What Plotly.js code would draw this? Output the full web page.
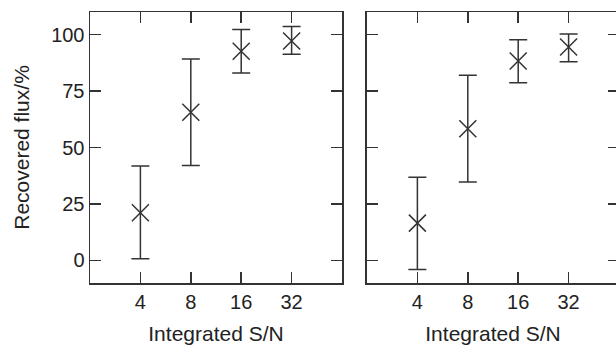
<!DOCTYPE html>
<html>
<head>
<meta charset="utf-8">
<script src="https://cdn.plot.ly/plotly-3.0.1.min.js"></script>
<style>
html,body{margin:0;padding:0;overflow:hidden;background:#fff;}
#chart{width:622px;height:345px;}
</style>
</head>
<body>
<div id="chart"></div>
<script>
var snr = [4, 8, 16, 32];
var tickLabels = ['4', '8', '16', '32'];

var leftFlux  = [21.1, 65.6, 92.6, 97.2];
var leftUpper = [41.8, 89.2, 102.2, 103.6];
var leftLower = [0.7, 42.0, 83.0, 91.3];

var rightFlux  = [16.5, 58.3, 88.3, 94.5];
var rightUpper = [36.8, 82.0, 97.7, 100.3];
var rightLower = [-4.0, 34.7, 78.7, 88.0];

var ink = '#333333';
var fontFam = '"Liberation Sans", Arial, Helvetica, sans-serif';
var fs = 20;
var tfs = 21;

function trace(y, up, lo, xa, ya) {
  return {
    x: snr, y: y, xaxis: xa, yaxis: ya,
    type: 'scatter', mode: 'markers',
    marker: {symbol: 'x-thin-open', size: 17, color: ink, line: {width: 1.5, color: ink}},
    error_y: {
      type: 'data', symmetric: false,
      array: up.map(function(u, i){ return u - y[i]; }),
      arrayminus: lo.map(function(l, i){ return y[i] - l; }),
      color: ink, thickness: 1.5, width: 9
    },
    showlegend: false, hoverinfo: 'skip'
  };
}

var xbase = {
  type: 'log', range: [Math.log10(2), Math.log10(64)],
  tickvals: snr, ticktext: tickLabels,
  ticks: 'inside', ticklen: 11, tickwidth: 1.5, tickcolor: ink,
  showline: true, linecolor: ink, linewidth: 1.5, mirror: 'ticks',
  showgrid: false, zeroline: false,
  tickfont: {family: fontFam, size: fs, color: '#222'},
  title: {text: 'Integrated S/N', font: {family: fontFam, size: tfs, color: '#222'}, standoff: 15}
};
var ybase = {
  range: [-10, 110], tickvals: [0, 25, 50, 75, 100],
  ticks: 'inside', ticklen: 11, tickwidth: 1.5, tickcolor: ink,
  showline: true, linecolor: ink, linewidth: 1.5, mirror: 'ticks',
  showgrid: false, zeroline: false,
  tickfont: {family: fontFam, size: fs, color: '#222'}
};

var layout = {
  width: 622, height: 345,
  margin: {l: 90, r: 3, t: 12, b: 62},
  paper_bgcolor: '#fff', plot_bgcolor: '#fff',
  xaxis: Object.assign({}, xbase, {domain: [0, 0.4764], anchor: 'y'}),
  xaxis2: Object.assign({}, xbase, {domain: [0.5236, 1], anchor: 'y2'}),
  yaxis: Object.assign({}, ybase, {anchor: 'x',
    title: {text: 'Recovered flux/%', font: {family: fontFam, size: tfs, color: '#222'}, standoff: 16}}),
  yaxis2: Object.assign({}, ybase, {anchor: 'x2', showticklabels: false})
};

Plotly.newPlot('chart', [
  trace(leftFlux, leftUpper, leftLower, 'x', 'y'),
  trace(rightFlux, rightUpper, rightLower, 'x2', 'y2')
], layout, {staticPlot: true, displayModeBar: false});
</script>
</body>
</html>
